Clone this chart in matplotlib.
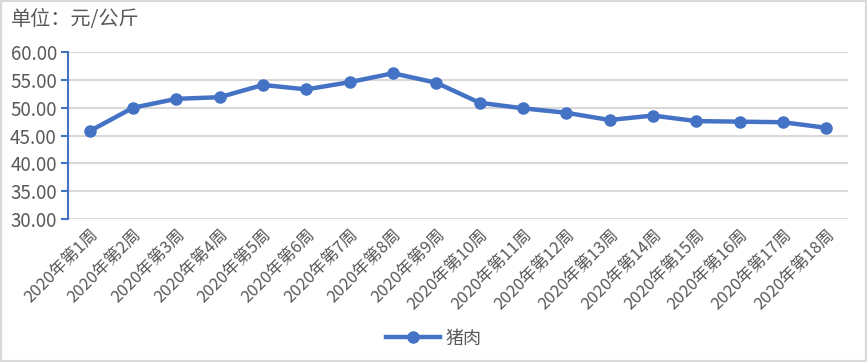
import matplotlib.pyplot as plt
from matplotlib.patches import Rectangle

plt.rcParams['font.family'] = ['Noto Sans CJK SC', 'DejaVu Sans']

weeks = [f"2020年第{i}周" for i in range(1, 19)]
pork = [45.8, 50.0, 51.6, 51.9, 54.1, 53.3, 54.6, 56.2, 54.5,
        50.9, 49.9, 49.1, 47.8, 48.6, 47.6, 47.5, 47.4, 46.4]

blue = "#4472C4"
grey = "#595959"

fig = plt.figure(figsize=(8.67, 3.62), dpi=100)
ax = fig.add_axes([0.0784, 0.395, 0.8996, 0.461])

x = list(range(len(weeks)))
ax.plot(x, pork, color=blue, lw=3.2, marker="o", ms=8, label="猪肉")

ax.set_xlim(-0.5, len(weeks) - 0.5)
ax.set_ylim(30, 60)
ax.set_yticks(range(30, 61, 5))
ax.set_yticklabels([f"{v:.2f}" for v in range(30, 61, 5)], color=grey, fontsize=13.5)
ax.set_xticks(x)
ax.set_xticklabels(weeks, rotation=45, ha="right", rotation_mode="anchor",
                   color=grey, fontsize=12)
ax.tick_params(axis="x", length=0, pad=5)
ax.tick_params(axis="y", length=5, color=blue, width=1.5, pad=3)
ax.grid(axis="y", color="#d9d9d9", lw=1.5)
ax.set_axisbelow(True)
for s in ["top", "right", "bottom"]:
    ax.spines[s].set_visible(False)
ax.spines["left"].set_color(blue)
ax.spines["left"].set_linewidth(1.5)

fig.text(0.012, 0.945, "单位：元/公斤", fontsize=14.5, color=grey, va="center")

fig.legend(loc="center", bbox_to_anchor=(0.5, 0.065), frameon=False,
           fontsize=13, labelcolor=grey, handlelength=3, handletextpad=0.3)

fig.patches.append(Rectangle((0, 0), 1, 1, transform=fig.transFigure,
                             fill=False, edgecolor="#d9d9d9", lw=3))

fig.savefig("out.png", dpi=100)
